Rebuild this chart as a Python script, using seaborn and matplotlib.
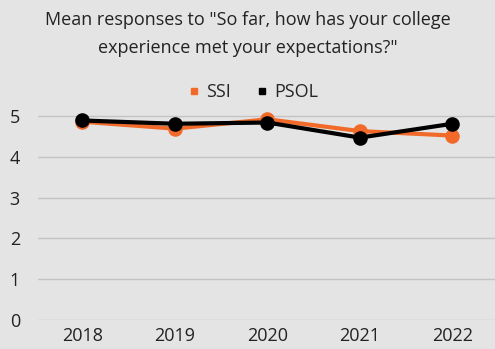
import matplotlib
matplotlib.use("Agg")
import matplotlib.pyplot as plt
import seaborn as sns
import pandas as pd
from matplotlib.lines import Line2D

years = ["2018", "2019", "2020", "2021", "2022"]
ssi = [4.86, 4.69, 4.92, 4.63, 4.52]
psol = [4.89, 4.81, 4.84, 4.47, 4.81]
series_names = ["SSI", "PSOL"]
colors = {"SSI": "#f26a2a", "PSOL": "#000000"}

df = pd.DataFrame({
    "year": years * 2,
    "idx": list(range(len(years))) * 2,
    "value": ssi + psol,
    "series": ["SSI"] * len(years) + ["PSOL"] * len(years),
})

sns.set_theme(style="white")
plt.rcParams['font.family'] = ['Open Sans', 'DejaVu Sans']
bg = "#e4e4e4"

fig = plt.figure(figsize=(4.95, 3.49), dpi=100, facecolor=bg)
ax = fig.add_axes([38/495, 29/349, 1 - 38/495, (5.4*40.8)/349])
ax.set_facecolor(bg)

sns.lineplot(data=df, x="idx", y="value", hue="series", hue_order=series_names,
             palette=colors, linewidth=3.0, marker="o", markersize=10.5,
             markeredgewidth=0, ax=ax, legend=False)

ax.set_xlim(-0.48, 4.46)
ax.set_ylim(0, 5.4)
ax.set_xticks(range(len(years)))
ax.set_xticklabels(years)
ax.set_yticks([0, 1, 2, 3, 4, 5])
ax.tick_params(axis='both', length=0, labelsize=13, colors="#222222")
ax.tick_params(axis='y', pad=13)
ax.tick_params(axis='x', pad=5)
ax.grid(axis='y', color="#c4c4c4", linewidth=1.0)
ax.set_axisbelow(True)
for s in ax.spines.values():
    s.set_visible(False)
ax.set_xlabel("")
ax.set_ylabel("")

fig.text(0.5, 1 - 20/349, "Mean responses to \"So far, how has your college",
         ha="center", va="center", fontsize=13, color="#222222")
fig.text(0.5, 1 - 48/349, "experience met your expectations?\"",
         ha="center", va="center", fontsize=13, color="#222222")

handles = [Line2D([], [], linestyle="none", marker="s", markersize=5,
                  color=colors[n], label=n) for n in series_names]
fig.legend(handles=handles, loc="center", bbox_to_anchor=(0.51, 1 - 92/349),
           ncol=2, frameon=False, fontsize=13, handletextpad=0.3,
           columnspacing=1.3, handlelength=0.8)

fig.savefig("out.png", dpi=100, facecolor=bg)
